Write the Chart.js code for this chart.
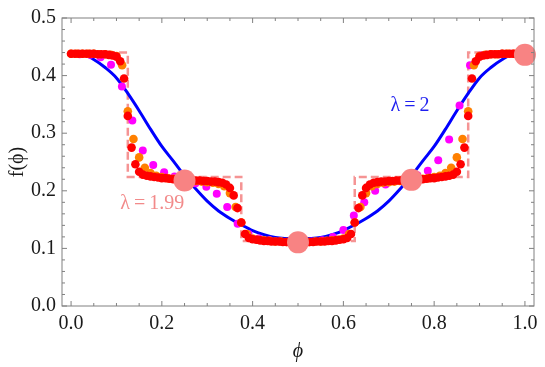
<!DOCTYPE html>
<html>
<head>
<meta charset="utf-8">
<script src="https://cdn.jsdelivr.net/npm/chart.js@4.4.1/dist/chart.umd.min.js"></script>
<style>
  html, body { margin: 0; padding: 0; background: #fff; }
</style>
</head>
<body>
<canvas id="chart" width="545" height="367"></canvas>
<script>
// ---- data ----
const xTicks = [0, 0.2, 0.4, 0.6, 0.8, 1.0];
const yTicks = [0, 0.1, 0.2, 0.3, 0.4, 0.5];
const xTickMarks = [0, 0.05, 0.1, 0.15, 0.2, 0.25, 0.3, 0.35, 0.4, 0.45, 0.5,
  0.55, 0.6, 0.65, 0.7, 0.75, 0.8, 0.85, 0.9, 0.95, 1.0];
const yTickMarks = [0, 0.02, 0.04, 0.06, 0.08, 0.1, 0.12, 0.14, 0.16, 0.18, 0.2,
  0.22, 0.24, 0.26, 0.28, 0.3, 0.32, 0.34, 0.36, 0.38, 0.4, 0.42, 0.44, 0.46, 0.48, 0.5];

// lambda = 2, smooth curve
const bluePhi = [0, 0.025, 0.05, 0.075, 0.1, 0.125, 0.15, 0.175, 0.2, 0.225,
  0.25, 0.275, 0.3, 0.325, 0.35, 0.375, 0.4, 0.425, 0.45, 0.475,
  0.5, 0.525, 0.55, 0.575, 0.6, 0.625, 0.65, 0.675, 0.7, 0.725,
  0.75, 0.775, 0.8, 0.825, 0.85, 0.875, 0.9, 0.925, 0.95, 0.975, 1.0];
const blueF = [0.438, 0.437, 0.428, 0.414, 0.396, 0.369, 0.339, 0.307, 0.277, 0.252,
  0.226, 0.203, 0.182, 0.165, 0.152, 0.141, 0.131, 0.124, 0.119, 0.117,
  0.116, 0.117, 0.119, 0.124, 0.131, 0.141, 0.152, 0.165, 0.182, 0.203,
  0.226, 0.252, 0.277, 0.307, 0.339, 0.369, 0.396, 0.414, 0.428, 0.437, 0.438];

// lambda = 1.99, dashed step
const stepPhi = [0, 0.125, 0.375, 0.625, 0.875, 1.0];
const stepF = [0.440, 0.224, 0.113, 0.224, 0.440, 0.440];

// big markers
const markPhi = [0.25, 0.5, 0.75, 1.0];
const markF = [0.218, 0.1105, 0.219, 0.436];

// red dots
const redPhi = [0, 0.0083, 0.0167, 0.025, 0.0333, 0.0417, 0.05, 0.0583, 0.0667, 0.075,
  0.0833, 0.0917, 0.1, 0.1083, 0.1167, 0.125, 0.1333, 0.1417, 0.15, 0.1583,
  0.1667, 0.175, 0.1833, 0.1917, 0.2, 0.2083, 0.2167, 0.225, 0.2333, 0.2417,
  0.25, 0.2583, 0.2667, 0.275, 0.2833, 0.2917, 0.3, 0.3083, 0.3167, 0.325,
  0.3333, 0.3417, 0.35, 0.3583, 0.3667, 0.375, 0.3833, 0.3917, 0.4, 0.4083,
  0.4167, 0.425, 0.4333, 0.4417, 0.45, 0.4583, 0.4667, 0.475, 0.4833, 0.4917,
  0.5, 0.5083, 0.5167, 0.525, 0.5333, 0.5417, 0.55, 0.5583, 0.5667, 0.575,
  0.5833, 0.5917, 0.6, 0.6083, 0.6167, 0.625, 0.6333, 0.6417, 0.65, 0.6583,
  0.6667, 0.675, 0.6833, 0.6917, 0.7, 0.7083, 0.7167, 0.725, 0.7333, 0.7417,
  0.75, 0.7583, 0.7667, 0.775, 0.7833, 0.7917, 0.8, 0.8083, 0.8167, 0.825,
  0.8333, 0.8417, 0.85, 0.8583, 0.8667, 0.875, 0.8833, 0.8917, 0.9, 0.9083,
  0.9167, 0.925, 0.9333, 0.9417, 0.95, 0.9583, 0.9667, 0.975, 0.9833, 0.9917, 1.0];
const redF = [0.438, 0.438, 0.438, 0.438, 0.438, 0.438, 0.438, 0.437, 0.437, 0.437,
  0.436, 0.435, 0.433, 0.425, 0.395, 0.330, 0.275, 0.246, 0.233, 0.228,
  0.226, 0.225, 0.224, 0.223, 0.222, 0.222, 0.221, 0.220, 0.220, 0.219,
  0.219, 0.219, 0.218, 0.218, 0.218, 0.217, 0.217, 0.216, 0.216, 0.215,
  0.214, 0.211, 0.205, 0.192, 0.170, 0.145, 0.125, 0.118, 0.116, 0.115,
  0.114, 0.113, 0.113, 0.112, 0.112, 0.112, 0.111, 0.111, 0.111, 0.111,
  0.111, 0.111, 0.111, 0.111, 0.111, 0.112, 0.112, 0.112, 0.113, 0.113,
  0.114, 0.115, 0.116, 0.118, 0.125, 0.145, 0.170, 0.192, 0.205, 0.211,
  0.214, 0.215, 0.216, 0.216, 0.217, 0.217, 0.218, 0.218, 0.218, 0.219,
  0.219, 0.219, 0.220, 0.220, 0.221, 0.222, 0.222, 0.223, 0.224, 0.225,
  0.226, 0.228, 0.233, 0.246, 0.275, 0.330, 0.395, 0.425, 0.433, 0.435,
  0.436, 0.437, 0.437, 0.437, 0.438, 0.438, 0.438, 0.438, 0.438, 0.438, 0.438];

// orange dots
const orangePhi = [0, 0.0125, 0.025, 0.0375, 0.05, 0.0625, 0.075, 0.0875, 0.1, 0.1125,
  0.125, 0.1375, 0.15, 0.1625, 0.175, 0.1875, 0.2, 0.2125, 0.225, 0.2375,
  0.25, 0.2625, 0.275, 0.2875, 0.3, 0.3125, 0.325, 0.3375, 0.35, 0.3625,
  0.375, 0.3875, 0.4, 0.4125, 0.425, 0.4375, 0.45, 0.4625, 0.475, 0.4875,
  0.5, 0.5125, 0.525, 0.5375, 0.55, 0.5625, 0.575, 0.5875, 0.6, 0.6125,
  0.625, 0.6375, 0.65, 0.6625, 0.675, 0.6875, 0.7, 0.7125, 0.725, 0.7375,
  0.75, 0.7625, 0.775, 0.7875, 0.8, 0.8125, 0.825, 0.8375, 0.85, 0.8625,
  0.875, 0.8875, 0.9, 0.9125, 0.925, 0.9375, 0.95, 0.9625, 0.975, 0.9875, 1.0];
const orangeF = [0.438, 0.438, 0.438, 0.438, 0.438, 0.437, 0.437, 0.436, 0.434, 0.418,
  0.338, 0.290, 0.258, 0.240, 0.231, 0.226, 0.224, 0.222, 0.221, 0.220,
  0.219, 0.218, 0.217, 0.216, 0.215, 0.214, 0.212, 0.208, 0.196, 0.172,
  0.145, 0.125, 0.117, 0.115, 0.114, 0.113, 0.112, 0.112, 0.111, 0.111,
  0.111, 0.111, 0.111, 0.112, 0.112, 0.113, 0.114, 0.115, 0.117, 0.125,
  0.145, 0.172, 0.196, 0.208, 0.212, 0.214, 0.215, 0.216, 0.217, 0.218,
  0.219, 0.220, 0.221, 0.222, 0.224, 0.226, 0.231, 0.240, 0.258, 0.290,
  0.338, 0.418, 0.434, 0.436, 0.437, 0.437, 0.438, 0.438, 0.438, 0.438, 0.438];

// magenta dots
const magentaPhi = [0.019, 0.042, 0.065, 0.088, 0.112, 0.135, 0.158, 0.181, 0.205, 0.228,
  0.251, 0.274, 0.298, 0.321, 0.344, 0.367, 0.391, 0.414, 0.437, 0.460,
  0.484, 0.507, 0.530, 0.553, 0.577, 0.600, 0.623, 0.646, 0.670, 0.693,
  0.716, 0.739, 0.763, 0.786, 0.809, 0.833, 0.856, 0.879, 0.902, 0.926,
  0.949, 0.972, 0.995];
const magentaF = [0.437, 0.436, 0.432, 0.419, 0.381, 0.322, 0.270, 0.245, 0.232, 0.225,
  0.219, 0.213, 0.207, 0.195, 0.172, 0.143, 0.125, 0.117, 0.114, 0.112,
  0.111, 0.111, 0.112, 0.114, 0.120, 0.132, 0.157, 0.180, 0.200, 0.211,
  0.217, 0.222, 0.227, 0.235, 0.253, 0.289, 0.348, 0.418, 0.435, 0.437,
  0.438, 0.438, 0.438];

const FONT = "'Liberation Serif', 'Times New Roman', serif";
const pts = (xs, ys) => xs.map((v, i) => ({ x: v, y: ys[i] }));

// frame with inward ticks on all four sides
const framePlugin = {
  id: "frame",
  afterDatasetsDraw(chart) {
    const { ctx, chartArea: a, scales: { x, y } } = chart;
    ctx.save();
    ctx.strokeStyle = "#808080";
    ctx.lineWidth = 1;
    ctx.strokeRect(a.left, a.top, a.right - a.left, a.bottom - a.top);
    ctx.beginPath();
    xTickMarks.forEach(v => {
      const px = x.getPixelForValue(v);
      const len = xTicks.includes(v) ? 5 : 3;
      ctx.moveTo(px, a.bottom); ctx.lineTo(px, a.bottom - len);
      ctx.moveTo(px, a.top); ctx.lineTo(px, a.top + len);
    });
    yTickMarks.forEach(v => {
      const py = y.getPixelForValue(v);
      const len = yTicks.includes(v) ? 5 : 3;
      ctx.moveTo(a.left, py); ctx.lineTo(a.left + len, py);
      ctx.moveTo(a.right, py); ctx.lineTo(a.right - len, py);
    });
    ctx.stroke();

    // curve labels
    ctx.textAlign = "center";
    ctx.textBaseline = "middle";
    ctx.font = "20px " + FONT;
    ctx.fillStyle = "#1f1ff0";
    ctx.fillText("\u03bb\u2009=\u20092", x.getPixelForValue(0.747), y.getPixelForValue(0.347));
    ctx.fillStyle = "#f28a8a";
    ctx.fillText("\u03bb\u2009=\u20091.99", x.getPixelForValue(0.179), y.getPixelForValue(0.177));
    ctx.restore();
  }
};

new Chart(document.getElementById("chart"), {
  type: "scatter",
  data: {
    datasets: [
      {
        data: pts(markPhi, markF),
        pointRadius: 11,
        backgroundColor: "#f88383",
        borderWidth: 0,
        clip: false
      },
      {
        data: pts(redPhi, redF),
        pointRadius: 4.3,
        backgroundColor: "#ff0000",
        borderWidth: 0
      },
      {
        data: pts(orangePhi, orangeF),
        pointRadius: 4.3,
        backgroundColor: "#ff8000",
        borderWidth: 0
      },
      {
        data: pts(magentaPhi, magentaF),
        pointRadius: 4,
        backgroundColor: "#ff00ff",
        borderWidth: 0
      },
      {
        data: pts(bluePhi, blueF),
        showLine: true,
        pointRadius: 0,
        borderColor: "#0000ff",
        borderWidth: 3,
        cubicInterpolationMode: "monotone"
      },
      {
        data: pts(stepPhi, stepF),
        showLine: true,
        stepped: "before",
        pointRadius: 0,
        borderColor: "#f59494",
        borderWidth: 2.5,
        borderDash: [8, 4]
      }
    ]
  },
  options: {
    responsive: false,
    animation: false,
    events: [],
    layout: { padding: { top: 12, right: 5, left: 0, bottom: 0 } },
    plugins: { legend: { display: false }, tooltip: { enabled: false } },
    scales: {
      x: {
        type: "linear",
        min: -0.02,
        max: 1.02,
        afterBuildTicks: s => { s.ticks = xTicks.map(v => ({ value: v })); },
        afterFit: s => { s.height = 61; },
        grid: { display: false, drawTicks: false },
        border: { display: false },
        ticks: {
          color: "#1a1a1a",
          font: { family: FONT, size: 20 },
          padding: 6,
          maxRotation: 0,
          autoSkip: false,
          callback: v => v.toFixed(1)
        },
        title: {
          display: true,
          text: "\u03d5",
          color: "#1a1a1a",
          font: { family: FONT, size: 20, style: "italic" },
          padding: { top: 0, bottom: 3 }
        }
      },
      y: {
        min: 0,
        max: 0.5,
        afterBuildTicks: s => { s.ticks = yTicks.map(v => ({ value: v })); },
        afterFit: s => { s.width = 62; },
        grid: { display: false, drawTicks: false },
        border: { display: false },
        ticks: {
          color: "#1a1a1a",
          font: { family: FONT, size: 20 },
          padding: 6,
          autoSkip: false,
          callback: v => v.toFixed(1)
        },
        title: {
          display: true,
          text: "f(\u03d5)",
          color: "#1a1a1a",
          font: { family: FONT, size: 20 },
          padding: { top: 6, bottom: 0 }
        }
      }
    }
  },
  plugins: [framePlugin]
});
</script>
</body>
</html>
